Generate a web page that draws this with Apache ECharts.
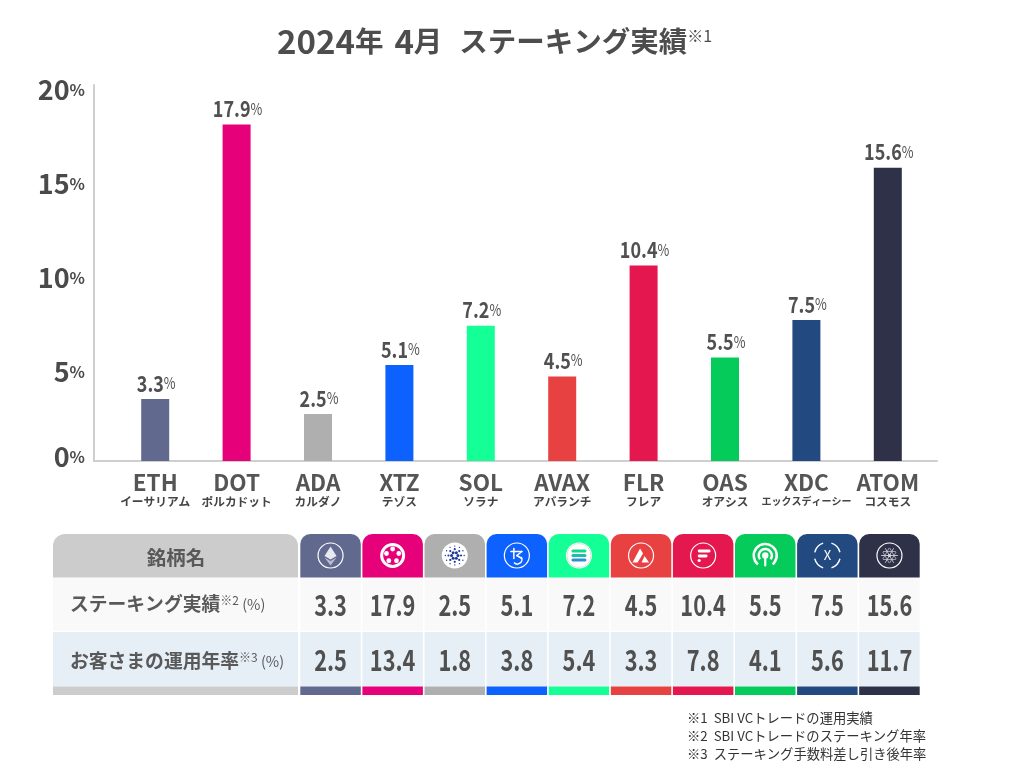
<!DOCTYPE html>
<html><head><meta charset="utf-8">
<style>html,body{margin:0;padding:0;background:#fff}#c{width:1012px;height:773px}</style>
<script src="https://cdn.jsdelivr.net/npm/echarts@6/dist/echarts.min.js"></script>
</head><body><div id="c"></div>
<script>
const tickers = ['ETH','DOT','ADA','XTZ','SOL','AVAX','FLR','OAS','XDC','ATOM'];
const kana = ['イーサリアム','ポルカドット','カルダノ','テゾス','ソラナ','アバランチ','フレア','オアシス','エックスディーシー','コスモス'];
const stakingYield = [3.3,17.9,2.5,5.1,7.2,4.5,10.4,5.5,7.5,15.6];
const customerYield = [2.5,13.4,1.8,3.8,5.4,3.3,7.8,4.1,5.6,11.7];
const colors = ['#62698f','#e6007a','#afafaf','#0d61ff','#14ff96','#e84142','#e4174f','#05cb5a','#224a80','#2e3148'];
const footnotes = ['※1  SBI VCトレードの運用実績','※2  SBI VCトレードのステーキング年率','※3  ステーキング手数料差し引き後年率'];

const JP = '"Noto Sans CJK JP","Noto Sans",sans-serif';
const TXT = '#505050';
const rowEdges = [0,43.5,97.5,152.5,161];
const rowBg = ['', '#f9f9f9', '#e7eff6', ''];
const st = (size,weight,color,extra)=>Object.assign({fontSize:size,fontWeight:weight,fontFamily:JP,color:color},extra||{});

function icon(i, cx, cy, col){
  const W='#fff', R=12.5;
  const ring = {type:'circle',shape:{cx,cy,r:R},style:{fill:'none',stroke:W,lineWidth:1.2}};
  const P = (pts,fill)=>({type:'polygon',shape:{points:pts.map(p=>[cx+p[0],cy+p[1]])},style:{fill:fill||W}});
  const C = (x,y,r,fill)=>({type:'circle',shape:{cx:cx+x,cy:cy+y,r},style:{fill:fill||W}});
  const L = (x1,y1,x2,y2,st,w)=>({type:'line',shape:{x1:cx+x1,y1:cy+y1,x2:cx+x2,y2:cy+y2},style:{stroke:st||W,lineWidth:w||2,lineCap:'round'}});
  const T = (t,size,w)=>({type:'text',style:{x:cx,y:cy,text:t,fill:W,font:(w||'normal')+' '+size+'px '+JP,align:'center',verticalAlign:'middle'}});
  switch(i){
    case 0: return [ring,P([[0,-9],[6,0.5],[0,4],[-6,0.5]],'#e8e9ef'),P([[0,5.5],[6,2],[0,10],[-6,2]],'#b9bccd')];
    case 1: {
      const a=[{type:'circle',shape:{cx,cy,r:11},style:{fill:'none',stroke:W,lineWidth:3}}];
      for(let k=0;k<5;k++){const t=k*2*Math.PI/5-Math.PI/2;a.push(C(6.5*Math.cos(t),6.5*Math.sin(t),2.4,W));}
      return a;
    }
    case 2: {
      const a=[C(0,0,13,W)];
      [[3.2,6,1.5],[6.3,8,1.1],[9.4,12,.7]].forEach(r=>{for(let k=0;k<r[1];k++){const t=k*2*Math.PI/r[1];a.push(C(r[0]*Math.cos(t),r[0]*Math.sin(t),r[2],'#1f3a9a'));}});
      return a;
    }
    case 3: return [ring,L(-3,-7,-3,3,W,1.5),L(-6,-4,5,-4,W,1.5),L(5,-4,0,0,W,1.5),L(0,0,5,3,W,1.5),{type:'arc',shape:{cx:cx+0.5,cy:cy+4,r:4.5,startAngle:-0.6,endAngle:2.4},style:{stroke:W,fill:'none',lineWidth:1.5}}];
    case 4: return [C(0,0,13,W),{type:'circle',shape:{cx,cy,r:12},style:{fill:'none',stroke:'#cfd8d4',lineWidth:.8}},L(-6,-4.5,6,-4.5,'#13d88f',3),L(-6,0,6,0,'#1bbfa8',3),L(-6,4.5,6,4.5,'#2d8fd6',3)];
    case 5: return [ring,P([[-1,-7],[2,-2],[-3.5,7],[-8.5,7]]),P([[3.5,0.5],[8,7],[0.5,7]])];
    case 6: return [ring,L(-4,-4.5,6,-4.5,W,2.8),L(-4,0.5,3,0.5,W,2.8),C(-4,5,1.6)];
    case 7: return [
      {type:'arc',shape:{cx,cy,r:11.5,startAngle:Math.PI*0.72,endAngle:Math.PI*0.28},style:{stroke:W,fill:'none',lineWidth:2.5}},
      {type:'arc',shape:{cx,cy,r:6.5,startAngle:Math.PI*0.8,endAngle:Math.PI*0.2},style:{stroke:W,fill:'none',lineWidth:2.5}},
      C(0,0,3.2),L(0,2,0,10,W,2.2)];
    case 8: return [
      {type:'arc',shape:{cx,cy,r:13,startAngle:-1.25,endAngle:-0.25},style:{stroke:W,fill:'none',lineWidth:1.4}},
      {type:'arc',shape:{cx,cy,r:13,startAngle:-2.9,endAngle:-1.9},style:{stroke:W,fill:'none',lineWidth:1.4}},
      {type:'arc',shape:{cx,cy,r:13,startAngle:0.25,endAngle:1.25},style:{stroke:W,fill:'none',lineWidth:1.4}},
      {type:'arc',shape:{cx,cy,r:13,startAngle:1.9,endAngle:2.9},style:{stroke:W,fill:'none',lineWidth:1.4}},
      T('X',13)];
    default: {
      const a=[ring,C(0,0,1.6)];
      [0,60,120].forEach(d=>{const t=d*Math.PI/180,c=Math.cos(t),s=Math.sin(t);
        a.push(L(-8*c,-8*s,8*c,8*s,'#cfd0db',.9),L(-4*s-6*c,4*c-6*s,-4*s+6*c,4*c+6*s,'#cfd0db',.7),L(4*s-6*c,-4*c-6*s,4*s+6*c,-4*c+6*s,'#cfd0db',.7));});
      return a;
    }
  }
}

function renderCol(params, api){
  const i = api.value(0);
  const band = api.size([1,0])[0];
  const cx = api.coord([i,0])[0];
  const x = cx - band/2 + 0.8, w = band - 1.6;
  const yy = rowEdges.map(v=>api.coord([i,v])[1]);
  const col = colors[i];
  const ch = [];
  ch.push({type:'rect',shape:{x,y:yy[0],width:w,height:yy[1]-yy[0],r:[10,10,0,0]},style:{fill:col}});
  ch.push({type:'rect',shape:{x,y:yy[1]+0.8,width:w,height:yy[2]-yy[1]-1.6},style:{fill:rowBg[1]}});
  ch.push({type:'rect',shape:{x,y:yy[2]+0.5,width:w,height:yy[3]-yy[2]-0.5},style:{fill:rowBg[2]}});
  ch.push({type:'rect',shape:{x,y:yy[3],width:w,height:yy[4]-yy[3]},style:{fill:col}});
  [1,2].forEach(r=>{
    ch.push({type:'text',scaleX:0.75,x:cx,y:(yy[r]+yy[r+1])/2+0.5,style:{x:0,y:0,text:api.value(r).toFixed(1),fill:TXT,font:'bold 29px '+JP,align:'center',verticalAlign:'middle'}});
  });
  ch.push.apply(ch, icon(i,cx,yy[0]+21.5,col));
  return {type:'group',children:ch};
}

function renderBarLabel(params, api){
  const p = api.coord([api.value(0), api.value(1)]);
  return {type:'text',scaleX:0.8,x:p[0]+1,y:p[1]-16,style:{
    x:0,y:0,align:'center',verticalAlign:'middle',
    text:'{v|'+api.value(1).toFixed(1)+'}{p|%}',
    rich:{v:{font:'bold 22.5px '+JP,fill:TXT},p:{font:'normal 16px '+JP,fill:TXT}}
  }};
}

const chart = echarts.init(document.getElementById('c'),null,{renderer:'canvas'});
const leftRow = (y,label,sup)=>({type:'text',left:70,top:y,style:{
  rich:{a:{font:'bold 18.8px '+JP,fill:'#595959'},s:{font:'normal 12px '+JP,fill:'#595959',padding:[0,0,8,0]},p:{font:'normal 14.5px '+JP,fill:'#595959'}},
  text:'{a|'+label+'}{s|'+sup+'}{p| (%)}'}});

chart.setOption({
  animation:false,
  backgroundColor:'#fff',
  title:{
    left:272,top:20,
    text:'{n|2024}{k|年}{g| }{n|4}{k|月}{h| }{k|ステーキング実績}{s|※1}',
    textStyle:{rich:{
      n:st(33,'bold','#4d4d4d'),
      k:st(28.5,'bold','#4d4d4d'),
      g:st(28.5,'bold','#4d4d4d',{width:11}),
      h:st(28.5,'bold','#4d4d4d',{width:17}),
      s:st(16,'normal','#4d4d4d',{padding:[0,0,12,0]})
    }}
  },
  grid:[
    {left:114.5,width:814,top:85,height:376},
    {left:94,width:843,top:85,height:376},
    {left:299.5,width:621,top:534,height:161}
  ],
  xAxis:[
    {type:'category',gridIndex:0,data:tickers,axisLine:{show:false},axisTick:{show:false},
     axisLabel:{interval:0,margin:9,
       formatter:(v,i)=>'{a|'+v+'}\n{b'+(kana[i].length>8?'s':'')+'|'+kana[i]+'}',
       rich:{a:st(22.5,'bold','#555',{lineHeight:24}),
             b:st(11.7,'bold','#444',{lineHeight:15}),
             bs:st(10,'bold','#444',{lineHeight:15})}}},
    {type:'value',gridIndex:1,min:0,max:1,axisLine:{show:true,onZero:false,lineStyle:{color:'#cfcfcf',width:2}},axisTick:{show:false},axisLabel:{show:false},splitLine:{show:false}},
    {type:'category',gridIndex:2,data:tickers,show:false}
  ],
  yAxis:[
    {type:'value',gridIndex:0,min:0,max:20,show:false},
    {type:'value',gridIndex:1,min:0,max:20,interval:5,
     axisLine:{show:true,lineStyle:{color:'#cfcfcf',width:2}},axisTick:{show:false},splitLine:{show:false},
     axisLabel:{margin:9,showMinLabel:true,showMaxLabel:true,
       formatter:v=>v===0?'{u|0}{pu|%}':'{d|'+v+'}{pd|%}',
       rich:{
         d:st(27,'bold','#4a4a4a',{padding:[10,0,0,0]}),
         pd:st(16,'bold','#4a4a4a',{padding:[10,0,0,0]}),
         u:st(27,'bold','#4a4a4a',{padding:[0,0,8,0]}),
         pu:st(16,'bold','#4a4a4a',{padding:[0,0,8,0]})
       }}},
    {type:'value',gridIndex:2,min:0,max:161,inverse:true,show:false}
  ],
  series:[
    {type:'bar',xAxisIndex:0,yAxisIndex:0,barWidth:28,
     data:stakingYield.map((v,i)=>({value:v,itemStyle:{color:colors[i]}}))},
    {type:'custom',xAxisIndex:0,yAxisIndex:0,renderItem:renderBarLabel,silent:true,clip:false,
     encode:{x:0,y:1},
     data:stakingYield.map((v,i)=>[i,v])},
    {type:'custom',xAxisIndex:2,yAxisIndex:2,renderItem:renderCol,silent:true,
     encode:{x:0},
     data:tickers.map((t,i)=>[i,stakingYield[i],customerYield[i]])}
  ],
  graphic:[
    {type:'rect',shape:{x:53,y:534,width:245,height:43.5,r:[12,12,0,0]},style:{fill:'#cbcccb'}},
    {type:'rect',shape:{x:53,y:578.3,width:245,height:52.4},style:{fill:'#f9f9f9'}},
    {type:'rect',shape:{x:53,y:632,width:245,height:54.5},style:{fill:'#e7eff6'}},
    {type:'rect',shape:{x:53,y:686.5,width:245,height:8.5},style:{fill:'#cbcccb'}},
    {type:'text',x:176,y:558,style:{text:'銘柄名',font:'bold 19.5px '+JP,fill:'#595959',align:'center',verticalAlign:'middle'}},
    leftRow(594,'ステーキング実績','※2'),
    leftRow(651,'お客さまの運用年率','※3'),
  ].concat(footnotes.map((t,i)=>({type:'text',x:687,y:718+18*i,style:{text:t,font:'normal 13.3px '+JP,fill:'#333',verticalAlign:'middle'}})))
});
</script></body></html>
